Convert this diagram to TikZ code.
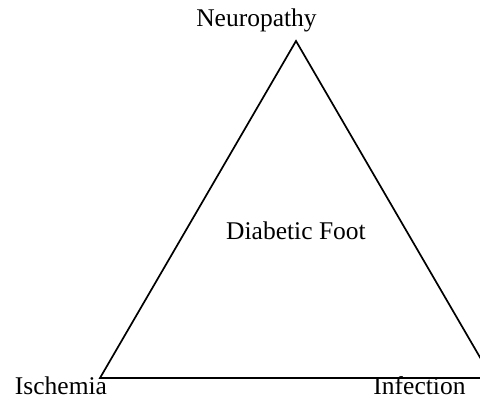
\documentclass[tikz,border=0pt]{standalone}
\usepackage{fontspec}
\setmainfont{Liberation Serif}
\usepackage{tikz}
\usetikzlibrary{positioning}
\tikzset{
  side/.style={line width=1.7bp,black,line cap=round,line join=miter},
  lbl/.style={font=\fontsize{25.6}{30}\selectfont,anchor=base,inner sep=0pt}
}

\begin{document}
\begin{tikzpicture}[x=1bp,y=1bp]
\useasboundingbox (0,0) rectangle (480,400);
\clip (0,0) rectangle (480,400);
\coordinate (N) at (296,359); \coordinate (I) at (100,22); \coordinate (F) at (492,22);
\draw[side] (I)--(N)--(F)--cycle;
\node[lbl] (neuro) at (256.5,374) {Neuropathy};
\node[lbl,text depth=0pt] (isch) at (61,6) {Ischemia};
\node[lbl,text depth=0pt] (infec) at (419.5,6) {Infection};
\node[lbl] (foot) at (296,161) {Diabetic Foot};
\end{tikzpicture}
\end{document}
